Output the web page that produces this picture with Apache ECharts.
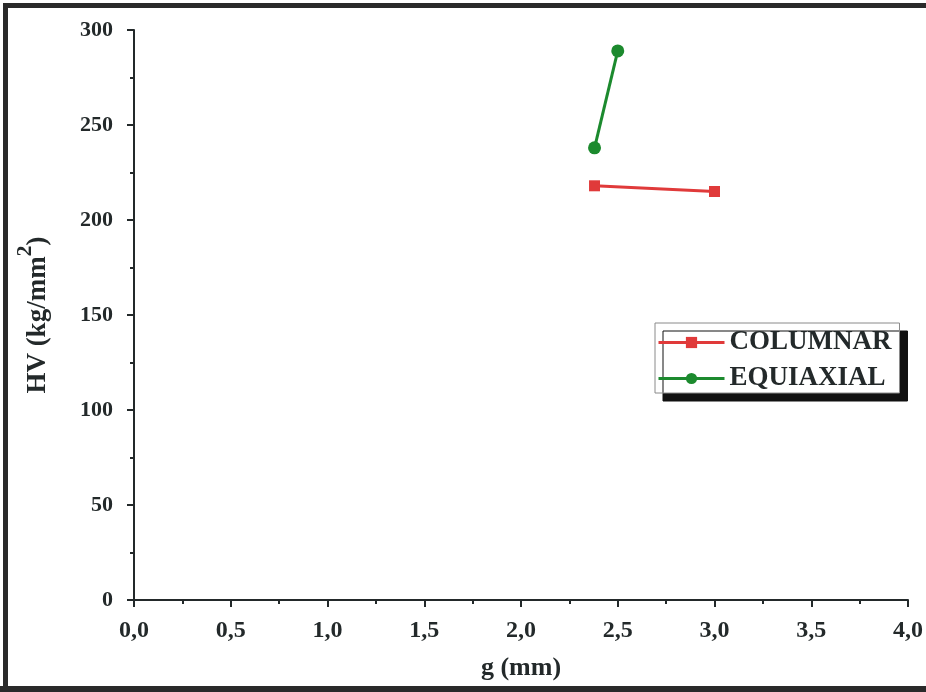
<!DOCTYPE html>
<html>
<head>
<meta charset="utf-8">
<style>
  html, body { margin: 0; padding: 0; background: #fff; }
  #chart { width: 926px; height: 692px; }
</style>
<script src="https://cdn.jsdelivr.net/npm/echarts@6/dist/echarts.min.js"></script>
</head>
<body>
<div id="chart"></div>
<script>
// Hardness measurements: grain size g (mm) against Vickers hardness HV
const seriesNames = ['COLUMNAR', 'EQUIAXIAL'];
const columnarG = [2.38, 3.0];
const columnarHV = [218, 215];
const equiaxialG = [2.38, 2.5];
const equiaxialHV = [238, 289];

const xTicks = { min: 0, max: 4, interval: 0.5 };
const yTicks = { min: 0, max: 300, interval: 50 };

const ink = '#23292a';
const serif = '"Liberation Serif", "Times New Roman", serif';

function pairs(xs, ys) {
  return xs.map((x, i) => [x, ys[i]]);
}

const chart = echarts.init(document.getElementById('chart'), null, { renderer: 'canvas' });

const axisCommon = {
  axisLine: { show: true, lineStyle: { color: ink, width: 2 } },
  axisTick: { show: true, inside: false, length: 7, lineStyle: { color: ink, width: 2 } },
  minorTick: { show: true, splitNumber: 2, length: 4, lineStyle: { color: ink, width: 2 } },
  splitLine: { show: false },
  minorSplitLine: { show: false }
};

chart.setOption({
  backgroundColor: '#ffffff',
  animation: false,
  grid: { left: 134, right: 18, top: 30, bottom: 92, containLabel: false },
  xAxis: Object.assign({
    type: 'value',
    min: xTicks.min,
    max: xTicks.max,
    interval: xTicks.interval,
    name: 'g (mm)',
    nameLocation: 'middle',
    nameGap: 55,
    nameTextStyle: { fontFamily: serif, fontWeight: 'bold', fontSize: 26, color: ink },
    axisLabel: {
      margin: 19,
      fontFamily: serif, fontWeight: 'bold', fontSize: 24, color: ink,
      formatter: v => v.toFixed(1).replace('.', ',')
    }
  }, axisCommon),
  yAxis: Object.assign({
    type: 'value',
    min: yTicks.min,
    max: yTicks.max,
    interval: yTicks.interval,
    name: '{a|HV (kg/mm}{s|2}{a|)}',
    nameLocation: 'middle',
    nameGap: 82,
    nameTextStyle: {
      rich: {
        a: { fontFamily: serif, fontWeight: 'bold', fontSize: 27, color: ink, verticalAlign: 'bottom', lineHeight: 38 },
        s: { fontFamily: serif, fontWeight: 'bold', fontSize: 22, color: ink, verticalAlign: 'top', lineHeight: 38 }
      }
    },
    axisLabel: {
      margin: 21,
      fontFamily: serif, fontWeight: 'bold', fontSize: 22, color: ink
    }
  }, axisCommon),
  legend: {
    orient: 'vertical',
    left: 655,
    top: 323,
    padding: [6, 8, 1, 2],
    itemGap: 9,
    itemWidth: 66,
    itemHeight: 14,
    backgroundColor: '#ffffff',
    borderColor: '#8a8a8a',
    borderWidth: 1,
    shadowColor: '#111',
    shadowBlur: 0,
    shadowOffsetX: 8,
    shadowOffsetY: 8,
    lineStyle: { width: 3 },
    textStyle: { fontFamily: serif, fontWeight: 'bold', fontSize: 27, color: ink, lineHeight: 27 },
    data: seriesNames
  },
  series: [
    {
      name: seriesNames[0],
      type: 'line',
      data: pairs(columnarG, columnarHV),
      symbol: 'rect',
      symbolSize: 11,
      color: '#e03a3a',
      lineStyle: { width: 3, color: '#e03a3a' },
      itemStyle: { color: '#e03a3a' }
    },
    {
      name: seriesNames[1],
      type: 'line',
      data: pairs(equiaxialG, equiaxialHV),
      symbol: 'circle',
      symbolSize: 13,
      color: '#1c8a2e',
      lineStyle: { width: 3, color: '#1c8a2e' },
      itemStyle: { color: '#1c8a2e' }
    }
  ],
  graphic: [
    // dark frame along the left, top and bottom edges
    { type: 'rect', left: 3, top: 3, shape: { width: 5, height: 689 }, style: { fill: '#2a2a2a' }, silent: true },
    { type: 'rect', left: 3, top: 3, shape: { width: 923, height: 5 }, style: { fill: '#2a2a2a' }, silent: true },
    { type: 'rect', left: 0, top: 686, shape: { width: 926, height: 6 }, style: { fill: '#2a2a2a' }, silent: true }
  ]
});
</script>
</body>
</html>
